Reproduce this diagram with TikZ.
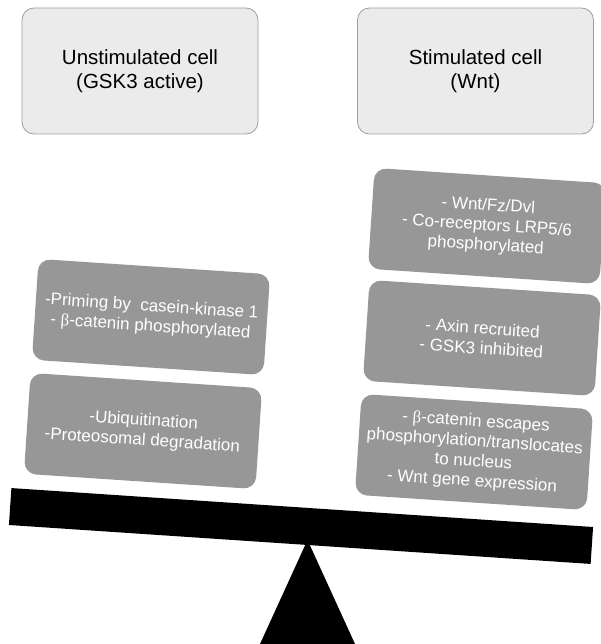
\documentclass[tikz,border=0pt]{standalone}
\usepackage{fontspec}
\setmainfont{Liberation Sans}
\newfontfamily\grkfont{Liberation Serif}
\newcommand{\bcat}{{\grkfont β}}
\definecolor{boxedge}{RGB}{158,158,158}
\definecolor{boxfill}{RGB}{235,235,235}
\definecolor{cardgray}{RGB}{151,151,151}
\begin{document}
\begin{tikzpicture}[x=1pt,y=-1pt,
  cellbox/.style={draw=boxedge, fill=boxfill, line width=0.8pt, rounded corners=12pt,
    minimum width=236pt, minimum height=126pt, align=center,
    font=\fontsize{20.5}{24}\selectfont, inner sep=0pt},
  stepcard/.style={fill=cardgray, text=white, rounded corners=12pt,
    minimum width=232pt, minimum height=101pt, align=center, rotate=-3.8,
    font=\fontsize{17}{20}\selectfont, inner sep=1pt},
  beamshape/.style={fill=black, minimum width=583pt, minimum height=37pt,
    inner sep=0pt, rotate=-3.83}
]
\useasboundingbox (0,0) rectangle (601,644);
\node[cellbox] (unstim) at (140,71) {Unstimulated cell\\(GSK3 active)};
\node[cellbox] (stim) at (475.5,71) {Stimulated cell\\(Wnt)};
\node[stepcard] (l1) at (151,317) {-Priming by\ \ casein-kinase 1\\- \bcat-catenin phosphorylated};
\node[stepcard] (l2) at (143,431) {-Ubiquitination\\-Proteosomal degradation};
\node[stepcard] (r1) at (487,226) {- Wnt/Fz/Dvl\\- Co-receptors LRP5/6\\phosphorylated};
\node[stepcard] (r2) at (482,338) {- Axin recruited\\- GSK3 inhibited};
\node[stepcard] (r3) at (474,452) {- \bcat-catenin escapes\\phosphorylation/translocates\\to nucleus\\- Wnt gene expression};
\coordinate (apex) at (307.5,540);
\coordinate (baseL) at (260,644);
\coordinate (baseR) at (355,644);
\fill[black] (apex) -- (baseL) -- (baseR) -- cycle;
\node[beamshape] (beam) at (301,526) {};
\end{tikzpicture}
\end{document}
